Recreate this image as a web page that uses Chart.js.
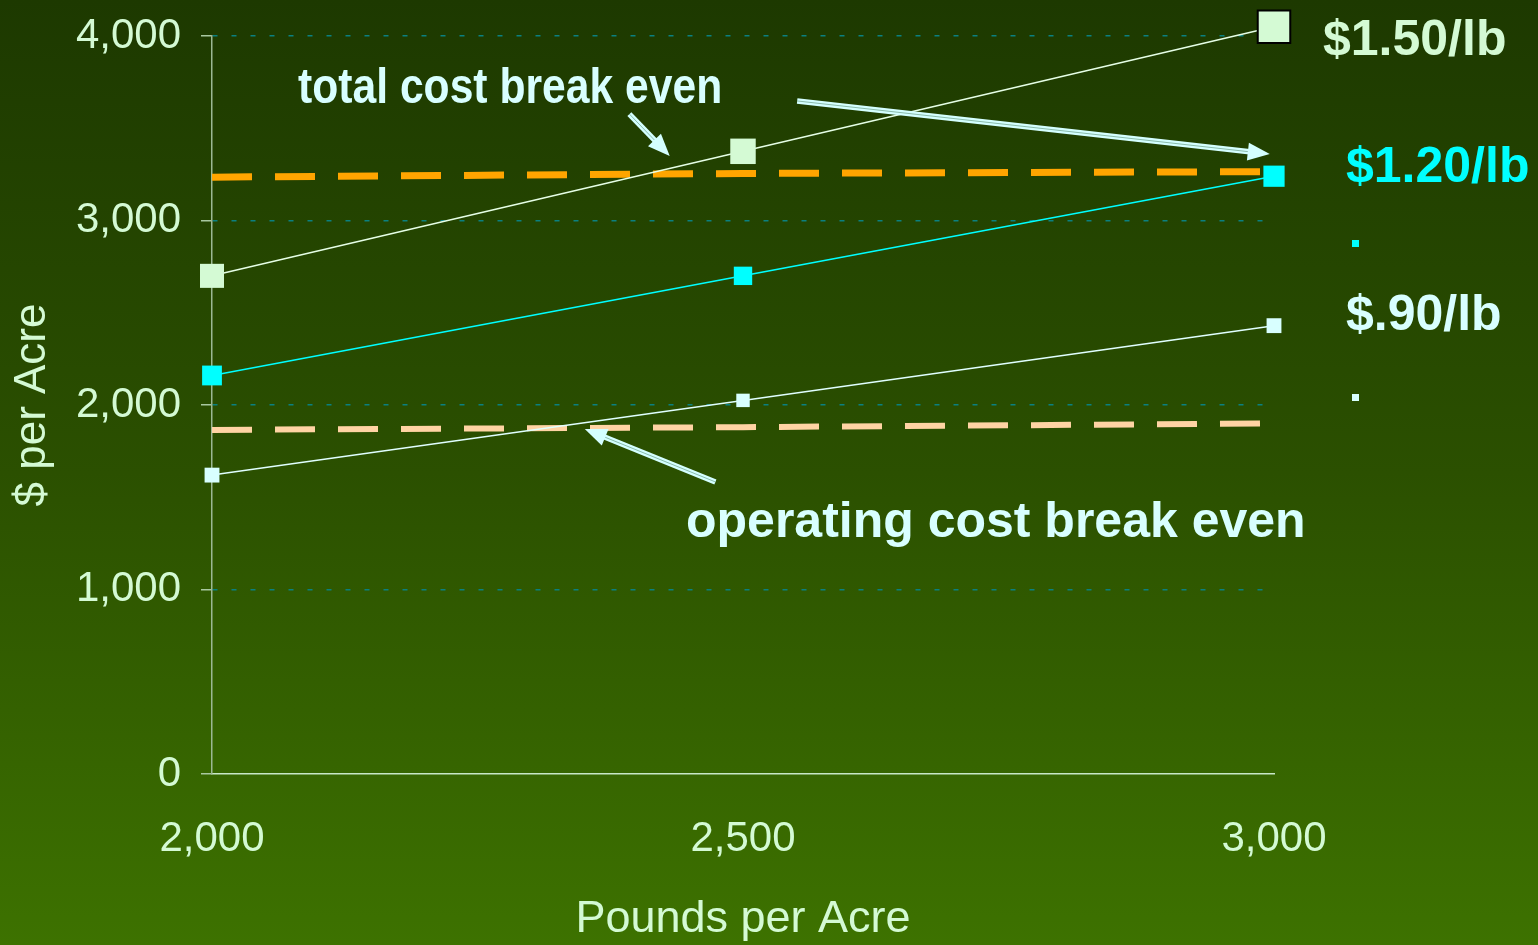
<!DOCTYPE html>
<html>
<head>
<meta charset="utf-8">
<script src="https://cdn.jsdelivr.net/npm/chart.js@4"></script>
<style>
html, body { margin: 0; padding: 0; }
body {
  width: 1538px; height: 945px; overflow: hidden; position: relative;
  background: linear-gradient(to bottom, #1d3900 0%, #2b5000 50%, #3d7200 100%);
  font-family: "Liberation Sans", Arial, sans-serif;
}
#wrap { position: absolute; left: 0; top: 0; width: 1538px; height: 945px; }
.lbl { position: absolute; font-weight: bold; font-size: 50px; line-height: 50px; white-space: nowrap; }
.dot { position: absolute; width: 7px; height: 7px; }
</style>
</head>
<body>
<div id="wrap"><canvas id="c" width="1538" height="945"></canvas></div>

<div class="lbl" style="left:1323px; top:13px; color:#d4fad4;">$1.50/lb</div>
<div class="lbl" style="left:1346px; top:140px; color:#00ffff;">$1.20/lb</div>
<div class="dot" style="left:1352px; top:240px; background:#00ffff;"></div>
<div class="lbl" style="left:1346px; top:288px; color:#d8ffff;">$.90/lb</div>
<div class="dot" style="left:1352px; top:394px; background:#d8ffff;"></div>

<div class="lbl" style="left:298px; top:61px; color:#d8ffff; transform:scaleX(0.853); transform-origin:left top;">total cost break even</div>
<div class="lbl" style="left:686px; top:495px; color:#d8ffff;">operating cost break even</div>

<script>
// ---- data ----
const pounds = [2000, 2500, 3000];
const revenue150 = [2700, 3375, 4050];
const revenue120 = [2160, 2700, 3240];
const revenue090 = [1620, 2025, 2430];
const totalCostBreakEven = [3235, 3255, 3265];
const operatingCostBreakEven = [1865, 1880, 1900];
const xTickStep = 500;
const yTickStep = 1000;

// annotation arrows in data coordinates [pounds, $]
const arrowTotalLeft = { from: [2393, 3577], to: [2431, 3350] };
const arrowTotalRight = { from: [2551, 3648], to: [2996, 3360] };
const arrowOperating = { from: [2474, 1583], to: [2351, 1870] };
const arrows = [arrowTotalLeft, arrowTotalRight, arrowOperating];

const pts = (ys) => pounds.map((x, i) => ({ x: x, y: ys[i] }));

function drawArrow(ctx, x1, y1, x2, y2) {
  const ang = Math.atan2(y2 - y1, x2 - x1);
  const headLen = 22, headW = 9;
  const bx = x2 - headLen * Math.cos(ang), by = y2 - headLen * Math.sin(ang);
  const nx = -Math.sin(ang), ny = Math.cos(ang);
  ctx.save();
  ctx.lineCap = 'butt';
  ctx.strokeStyle = '#d4ffff';
  ctx.lineWidth = 5.5;
  ctx.beginPath(); ctx.moveTo(x1, y1); ctx.lineTo(bx + 4 * Math.cos(ang), by + 4 * Math.sin(ang)); ctx.stroke();
  ctx.strokeStyle = 'rgba(120,170,150,0.8)';
  ctx.lineWidth = 1;
  ctx.beginPath(); ctx.moveTo(x1, y1); ctx.lineTo(bx, by); ctx.stroke();
  ctx.beginPath();
  ctx.moveTo(x2, y2);
  ctx.lineTo(bx + nx * headW, by + ny * headW);
  ctx.lineTo(bx - nx * headW, by - ny * headW);
  ctx.closePath();
  ctx.fillStyle = '#d4ffff';
  ctx.fill();
  ctx.restore();
}

const arrowPlugin = {
  id: 'arrows',
  afterDatasetsDraw(chart) {
    const ctx = chart.ctx, xs = chart.scales.x, ys = chart.scales.y;
    arrows.forEach(a => {
      drawArrow(ctx,
        xs.getPixelForValue(a.from[0]), ys.getPixelForValue(a.from[1]),
        xs.getPixelForValue(a.to[0]), ys.getPixelForValue(a.to[1]));
    });
  }
};

const FONT = '"Liberation Sans", Arial, sans-serif';
const pale = '#d4fad4';

new Chart(document.getElementById('c'), {
  type: 'line',
  data: {
    datasets: [
      {
        label: '$1.50/lb', data: pts(revenue150),
        borderColor: '#e6ffe6', borderWidth: 1.5, tension: 0,
        pointStyle: 'rect', pointRadius: [17, 18, 23],
        pointBackgroundColor: '#d4fad4', pointBorderColor: '#000000', pointBorderWidth: [0, 0, 2],
        clip: false
      },
      {
        label: '$1.20/lb', data: pts(revenue120),
        borderColor: '#00ffff', borderWidth: 1.5, tension: 0,
        pointStyle: 'rect', pointRadius: [14, 13, 15],
        pointBackgroundColor: '#00ffff', pointBorderWidth: 0,
        clip: false
      },
      {
        label: '$.90/lb', data: pts(revenue090),
        borderColor: '#e0ffff', borderWidth: 1.5, tension: 0,
        pointStyle: 'rect', pointRadius: [10.5, 9.5, 10.5],
        pointBackgroundColor: '#d8ffff', pointBorderWidth: 0,
        clip: false
      },
      {
        label: 'total cost break even', data: pts(totalCostBreakEven),
        borderColor: '#ffa500', borderWidth: 7, borderDash: [40, 23], borderCapStyle: 'butt',
        tension: 0, pointRadius: 0, clip: false
      },
      {
        label: 'operating cost break even', data: pts(operatingCostBreakEven),
        borderColor: '#ffd4a4', borderWidth: 6, borderDash: [40, 23], borderCapStyle: 'butt',
        tension: 0, pointRadius: 0, clip: false
      }
    ]
  },
  options: {
    responsive: false,
    animation: false,
    layout: { padding: { top: 36, right: 264, left: 0, bottom: 0 } },
    plugins: { legend: { display: false }, tooltip: { enabled: false } },
    scales: {
      x: {
        type: 'linear', min: pounds[0], max: pounds[pounds.length - 1],
        afterFit: s => { s.height = 171; },
        ticks: { stepSize: xTickStep, color: pale, font: { size: 42, family: FONT }, padding: 40, maxRotation: 0 },
        grid: { display: false, drawTicks: false },
        border: { color: '#c8e8c8', width: 1.5 },
        title: { display: true, text: 'Pounds per Acre', color: pale, font: { size: 45, family: FONT, lineHeight: 1.15 }, padding: { top: 0, bottom: 0 } }
      },
      y: {
        min: 0, max: 4000,
        afterFit: s => { s.width = 212; s.paddingTop = 0; s.paddingBottom = 0; },
        ticks: { stepSize: yTickStep, color: pale, font: { size: 42, family: FONT }, padding: 20 },
        grid: {
          color: c => (c.tick && c.tick.value === 0) ? 'rgba(0,0,0,0)' : '#0b8080',
          lineWidth: 1.5, tickColor: '#a8c8a0', tickLength: 11, tickWidth: 1.5
        },
        border: { color: '#9cb894', width: 1.5, dash: [5, 14] },
        title: { display: true, text: '$ per Acre', color: pale, font: { size: 44, family: FONT }, padding: { top: 6, bottom: 6 } }
      }
    }
  },
  plugins: [arrowPlugin]
});
</script>
</body>
</html>
